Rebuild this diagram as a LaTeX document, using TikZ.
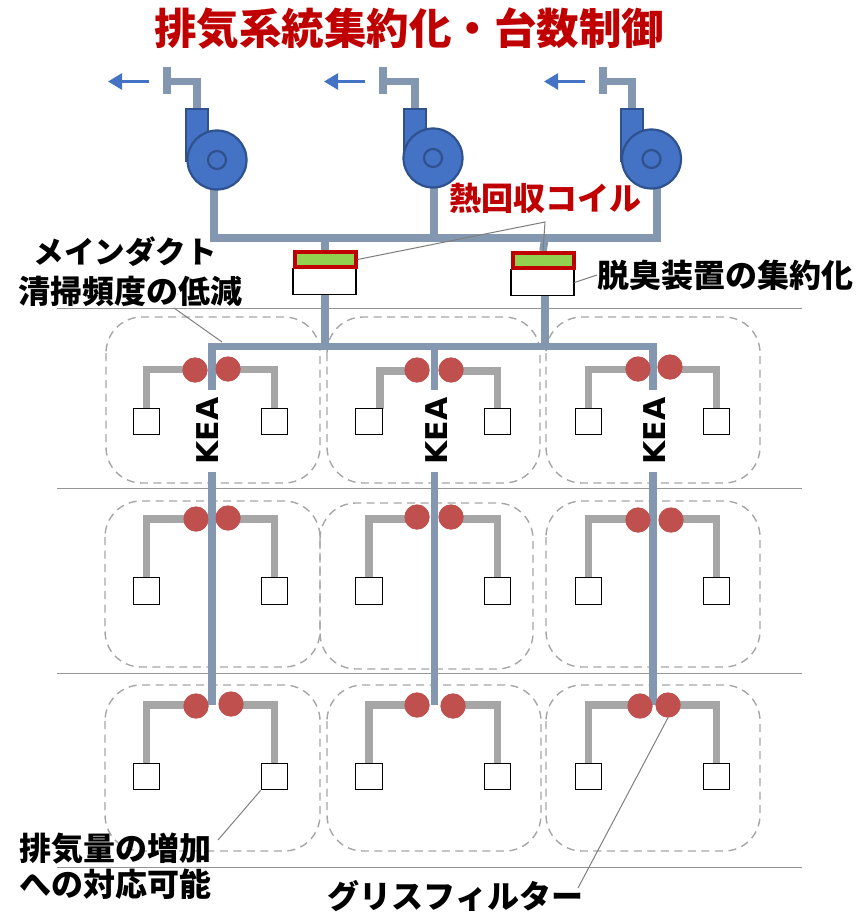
\documentclass[tikz,border=0pt]{standalone}
\usepackage{fontspec}
\setmainfont{Noto Sans CJK JP}
\newfontfamily\latinbold{DejaVu Sans}
\usetikzlibrary{arrows.meta}
\definecolor{ductc}{HTML}{8497B0}
\definecolor{fanc}{HTML}{4472C4}
\definecolor{fanl}{HTML}{2F528F}
\definecolor{redc}{HTML}{C00000}
\definecolor{greenc}{HTML}{92D050}
\definecolor{filterc}{HTML}{C0504D}
\definecolor{branchc}{HTML}{A6A6A6}
\definecolor{leaderc}{HTML}{7F7F7F}
\tikzset{
  duct/.style={draw=ductc,line width=7.6pt},
  branch/.style={draw=branchc,line width=7.8pt,line join=miter},
  filt/.style={circle,fill=filterc,minimum size=25pt,inner sep=0pt},
  hoodbox/.style={draw=black,fill=white,line width=1.1pt,minimum size=26.5pt,inner sep=0pt},
  zone/.style={draw=branchc,line width=1.4pt,dash pattern=on 8pt off 5.5pt,rounded corners=36pt},
  floorline/.style={draw=branchc!90!black,line width=1pt},
  leader/.style={draw=leaderc,line width=1pt},
  fanbody/.style={circle,fill=fanc,draw=fanl,line width=2.2pt,inner sep=0pt},
  outlet/.style={draw=fanl,fill=fanc,line width=2.2pt,inner sep=0pt},
  coil/.style={draw=redc,fill=greenc,line width=4pt,minimum width=61pt,minimum height=15pt,inner sep=0pt},
  odour/.style={draw=black,fill=white,line width=1.1pt,minimum width=63pt,minimum height=25.5pt,inner sep=0pt},
  lbl/.style={inner sep=0pt,font=\bfseries\fontsize{32}{34}\selectfont},
  kea/.style={rotate=90,inner sep=0pt,font=\latinbold\bfseries\fontsize{30}{32}\selectfont},
  blowarrow/.style={draw=fanc,line width=2.6pt,-{Triangle[length=14pt,width=16pt]}},
}
\newcommand{\fanunit}[5]{% name, cx, cy, rect-left, T x
  \node[outlet,minimum width=21.5pt,minimum height=52pt,anchor=north west] (#1o) at (#4,108) {};
  \node[fanbody,minimum size=59pt] (#1c) at (#2,#3) {};
  \node[circle,draw=fanl,line width=2.2pt,minimum size=18pt,inner sep=0pt] (#1i) at (#2,#3) {};
  \coordinate (#1t) at (#5,81.5);
  \coordinate (#1a) at (#5-18,81.5);
  \coordinate (#1b) at (#5-59,81.5);
  \draw[duct,line join=miter] (#1o.north) |- (#1t);
  \draw[duct] (#5,67.5) -- (#5,94.5);
  \draw[blowarrow] (#1a) -- (#1b);
}
\newcommand{\hoodunit}[9]{% name, f1x,f1y,f2x,f2y,boxlx,boxrx,boxy,y-branch
  \node[hoodbox] (#1bl) at (#6,#8) {};
  \node[hoodbox] (#1br) at (#7,#8) {};
  \coordinate (#1jl) at (#2,#9);
  \coordinate (#1jr) at (#4,#9);
  \draw[branch] (#1jl) -| (#1bl.north);
  \draw[branch] (#1jr) -| (#1br.north);
  \node[hoodbox] at (#1bl) {};
  \node[hoodbox] at (#1br) {};
  \node[filt] (#1fl) at (#2,#3) {};
  \node[filt] (#1fr) at (#4,#5) {};
}
\begin{document}
\begin{tikzpicture}[x=1pt,y=-1pt]
\useasboundingbox (0,0) rectangle (859,912);
% floor lines
\foreach \n/\yy in {a/308,b/488,c/673,d/867}{
  \coordinate (fl\n) at (57,\yy);
  \coordinate (fr\n) at (802,\yy);
  \draw[floorline] (fl\n) -- (fr\n);
}
% zones
\foreach \xa/\ya/\xb/\yb in {106/317/320/483,327/317/540/483,546/317/760/483,
  105/501/320/667,320/503/533/669,546/501/760/667,
  105/685/320/851,327/685/541/851,546/685/760/851}{
  \draw[zone] (\xa,\ya) rectangle (\xb,\yb);
}
% main ducts
\coordinate (mA) at (214,238);
\coordinate (mB) at (434,238);
\coordinate (mC) at (657,238);
\coordinate (mD) at (325,238);
\coordinate (mE) at (545,238);
\coordinate (lA) at (212,346.5);
\coordinate (lB) at (434.5,346.5);
\coordinate (lC) at (653,346.5);
\coordinate (lD) at (325,346.5);
\coordinate (lE) at (545,346.5);
\node[coil,draw=none,fill=none] (coilA) at (325,259.5) {};
\node[coil,draw=none,fill=none] (coilB) at (543,260.5) {};
\node[odour] (odourA) at (324.5,281.5) {};
\node[odour] (odourB) at (542.5,282.5) {};
% main duct first, fans on top
\draw[duct,line join=miter] (214,170) |- (mC) -- (657,170);
\draw[duct] (434,170) -- (mB);
\draw[duct] (mD) -- (coilA.north);
\draw[duct] (mE) -- (coilB.north);
\draw[duct] (odourA.south -| lD) -- (lD);
\draw[duct] (odourB.south -| lE) -- (lE);
\node[odour] at (odourA) {};
\node[odour] at (odourB) {};
\node[coil] at (coilA) {};
\node[coil] at (coilB) {};
\fanunit{fa}{217}{160}{185}{167}
\fanunit{fb}{433}{158}{403}{383}
\fanunit{fc}{651.5}{159}{620}{603}
% hoods (branches below ducts)
\hoodunit{ra}{195}{370}{228}{369}{146.5}{274.5}{421.5}{369.5}
% hood with a jogged left branch
\node[hoodbox] (rbbl) at (369,421.5) {};
\node[hoodbox] (rbbr) at (497.5,421.5) {};
\coordinate (rbjl) at (417,371);
\coordinate (rbjr) at (451,371);
\coordinate (rbk) at (380,408.5);
\draw[branch] (rbjl) -| (rbk);
\draw[branch] (rbjr) -| (rbbr.north);
\node[hoodbox] at (rbbl) {};
\node[hoodbox] at (rbbr) {};
\node[filt] (rbfl) at (417,370) {};
\node[filt] (rbfr) at (451,370) {};
\hoodunit{rc}{638}{369}{670}{367}{588.5}{716.5}{421.5}{369.5}
\hoodunit{sa}{196}{519}{228}{518}{146.5}{274.5}{591}{519}
\hoodunit{sb}{417}{517}{451}{517}{369}{497.5}{591}{519}
\hoodunit{sc}{638}{520}{671}{520}{588.5}{716.5}{591}{519}
\hoodunit{ta}{196}{706}{231}{704}{146.5}{274.5}{776.5}{705}
\hoodunit{tb}{417}{705}{453}{706}{369}{497.5}{776.5}{705}
\hoodunit{tc}{640}{706}{668}{705}{588.5}{716.5}{776.5}{705}
% KEA risers
\node[kea] (keaA) at (208,431) {KEA};
\node[kea] (keaB) at (437,431) {KEA};
\node[kea] (keaC) at (655,431) {KEA};
\draw[duct,line join=miter] (212,390) -- (lA) -- (lC) -- (653,390);
\draw[duct] (lB) -- (434.5,390);
\coordinate (eA) at (212,705);
\coordinate (eB) at (434.5,705);
\coordinate (eC) at (653,705);
\draw[duct] (212,472) -- (eA);
\draw[duct] (434.5,472) -- (eB);
\draw[duct] (653,472) -- (eC);
% filters on top of risers
\foreach \r in {ra,rb,rc,sa,sb,sc,ta,tb,tc}{
  \node[filt] at (\r fl) {};
  \node[filt] at (\r fr) {};
}
% labels
\node[inner sep=0pt,text=redc,font=\bfseries\fontsize{42.5}{44}\selectfont] (title) at (409,29) {排気系統集約化・台数制御};
\node[lbl,text=redc] (heat) at (545,198) {熱回収コイル};
\node[lbl,anchor=west] (deod) at (597,275) {脱臭装置の集約化};
\node[lbl,font=\bfseries\fontsize{30.5}{32}\selectfont] (maind) at (125,251.5) {メインダクト};
\node[lbl] (clean) at (130.5,291) {清掃頻度の低減};
\node[lbl] (inc1) at (115,849) {排気量の増加};
\node[lbl] (inc2) at (115,884) {への対応可能};
\node[lbl] (gris) at (455.5,896.5) {グリスフィルター};
% leaders
\coordinate (hk) at (545,222);
\coordinate (ld1) at (174,308);
\coordinate (ld2) at (222,342);
\coordinate (ld3) at (218,840);
\coordinate (ld4) at (578,888);
\draw[leader] (coilA.east) -- (hk) -- (coilB.north);
\draw[leader] (odourB.east) -- (deod.west);
\draw[leader] (ld1) -- (ld2);
\draw[leader] (ld3) -- (tabr.south west);
\draw[leader] (ld4) -- (tcfr.south);
\end{tikzpicture}
\end{document}
